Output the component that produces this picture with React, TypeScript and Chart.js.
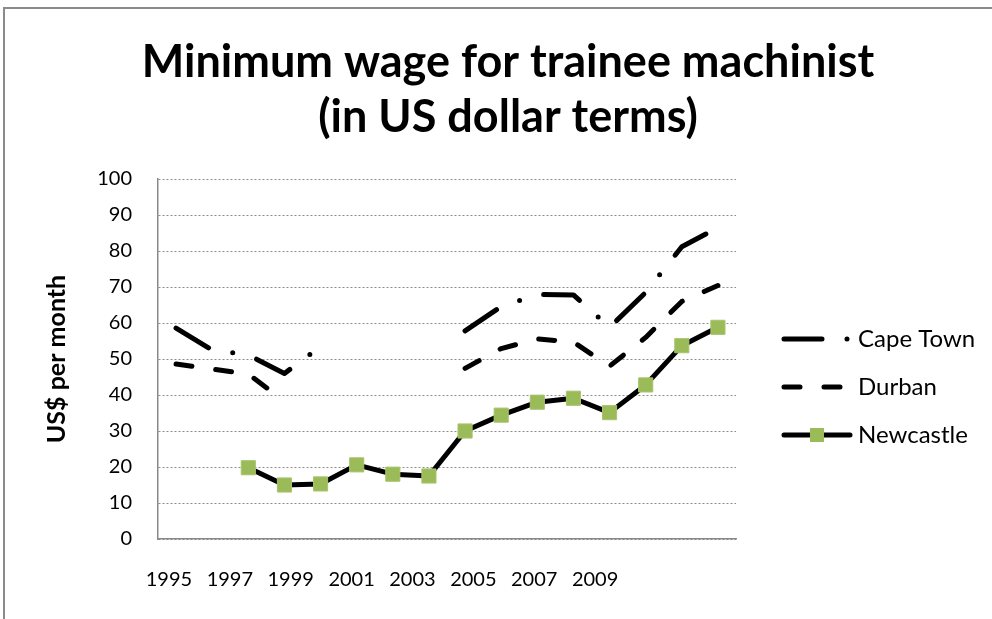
import React, { useEffect, useRef } from 'react';
import { Chart, registerables } from 'chart.js';

Chart.register(...registerables);

const years = ['1995','1996','1997','1998','1999','2000','2001','2002','2003','2004','2005','2006','2007','2008','2009','2010'];
const xTickLabels = ['1995','1997','1999','2001','2003','2005','2007','2009'];
const capeTown = [58.6, 52.5, 51.1, 46.0, 53.5, null, null, null, 57.8, 64.6, 67.9, 67.8, 58.8, 68.5, 81.2, 86.5];
const durban = [48.6, 47.2, 45.8, 38.3, null, null, null, null, 47.4, 52.9, 55.6, 54.7, 48.0, 56.0, 66.0, 70.4];
const newcastle = [null, null, 19.8, 15.0, 15.3, 20.6, 18.0, 17.5, 30.0, 34.4, 38.0, 39.1, 35.1, 42.8, 53.7, 58.8];
const seriesNames = ['Cape Town', 'Durban', 'Newcastle'];
const titleLines = ['Minimum wage for trainee machinist', '(in US dollar terms)'];
const yAxisTitle = 'US$ per month';

const FONT = 'Lato';
const GREEN = '#9BBB59';

const overlayPlugin = {
  id: 'overlay',
  afterDraw(chart: any) {
    const ctx = chart.ctx as CanvasRenderingContext2D;
    ctx.save();
    ctx.fillStyle = '#000';
    ctx.font = `bold 45px ${FONT}`;
    ctx.textAlign = 'center';
    ctx.textBaseline = 'alphabetic';
    titleLines.forEach((t, i) => ctx.fillText(t, 508, 77 + i * 55));

    chart.data.datasets.forEach((ds: any, i: number) => {
      const y = 339 + i * 48;
      ctx.save();
      ctx.beginPath();
      ctx.setLineDash(ds.borderDash || []);
      ctx.lineWidth = ds.borderWidth;
      ctx.lineCap = 'round';
      ctx.strokeStyle = ds.borderColor;
      ctx.moveTo(784, y);
      ctx.lineTo(850, y);
      ctx.stroke();
      ctx.restore();
      if (ds.pointRadius > 0) {
        const s = 14;
        ctx.fillStyle = ds.pointBackgroundColor;
        ctx.fillRect(817 - s / 2, y - s / 2, s, s);
      }
      ctx.fillStyle = '#000';
      ctx.font = `24px ${FONT}`;
      ctx.textAlign = 'left';
      ctx.textBaseline = 'middle';
      ctx.fillText(ds.label, 858, y);
    });
    ctx.restore();
  },
};

export default function App() {
  const ref = useRef<HTMLCanvasElement>(null);
  useEffect(() => {
    if (!ref.current) return;
    const chart = new Chart(ref.current, {
      type: 'line',
      data: {
        labels: years,
        datasets: [
          {
            label: seriesNames[0],
            data: capeTown,
            borderColor: '#000',
            borderWidth: 5,
            borderDash: [38, 25, 0, 25],
            borderCapStyle: 'round',
            borderJoinStyle: 'round',
            pointRadius: 0,
            tension: 0,
            spanGaps: false,
          },
          {
            label: seriesNames[1],
            data: durban,
            borderColor: '#000',
            borderWidth: 5,
            borderDash: [16, 24],
            borderCapStyle: 'round',
            borderJoinStyle: 'round',
            pointRadius: 0,
            tension: 0,
            spanGaps: false,
          },
          {
            label: seriesNames[2],
            data: newcastle,
            borderColor: '#000',
            borderWidth: 5,
            borderCapStyle: 'round',
            borderJoinStyle: 'round',
            pointStyle: 'rect',
            pointRadius: 10,
            pointBackgroundColor: GREEN,
            pointBorderColor: '#A8C46E',
            pointBorderWidth: 1,
            tension: 0,
            spanGaps: false,
          },
        ],
      } as any,
      options: {
        responsive: false,
        animation: false,
        layout: { padding: { top: 179, right: 256, bottom: 0, left: 0 } },
        plugins: {
          legend: { display: false },
          title: { display: false },
          tooltip: { enabled: false },
        },
        scales: {
          x: {
            type: 'category',
            offset: true,
            grid: { display: false },
            ticks: { display: false },
            border: { display: true, color: '#898989', width: 1.5 },
            afterFit: (s: any) => { s.height = 0; },
          },
          xl: {
            type: 'linear',
            position: 'bottom',
            min: 1994.64,
            max: 2013.63,
            grid: { display: false, drawTicks: false },
            border: { display: false },
            ticks: {
              font: { family: FONT, size: 20 },
              color: '#000',
              padding: 29,
              autoSkip: false,
              maxRotation: 0,
              callback: (v: any) => String(v),
            },
            afterBuildTicks: (a: any) => {
              a.ticks = xTickLabels.map((l) => ({ value: Number(l) }));
            },
            afterFit: (s: any) => { s.height = 80; },
          },
          y: {
            min: 0,
            max: 100,
            ticks: {
              stepSize: 10,
              font: { family: FONT, size: 20 },
              color: '#000',
              padding: 26,
            },
            grid: { color: '#8c8c8c', drawTicks: false, lineWidth: 1 },
            border: { display: true, color: '#898989', width: 1.5, dash: [2, 2] },
            title: {
              display: true,
              text: yAxisTitle,
              color: '#000',
              font: { family: FONT, size: 25, weight: 'bold' },
              padding: { top: 42, bottom: 0 },
            },
            afterFit: (s: any) => { s.width = 158; },
          },
        },
      } as any,
      plugins: [overlayPlugin],
    });
    return () => chart.destroy();
  }, []);

  return (
    <div style={{ position: 'absolute', left: 0, top: 0, width: 992, height: 619, background: '#fff', overflow: 'hidden' }}>
      <canvas ref={ref} width={992} height={619} style={{ position: 'absolute', left: 0, top: 0 }} />
      <div
        style={{
          position: 'absolute',
          left: 3,
          top: 7,
          width: 1100,
          height: 800,
          borderTop: '2px solid #8a8a8a',
          borderLeft: '2px solid #8a8a8a',
          pointerEvents: 'none',
        }}
      />
    </div>
  );
}
